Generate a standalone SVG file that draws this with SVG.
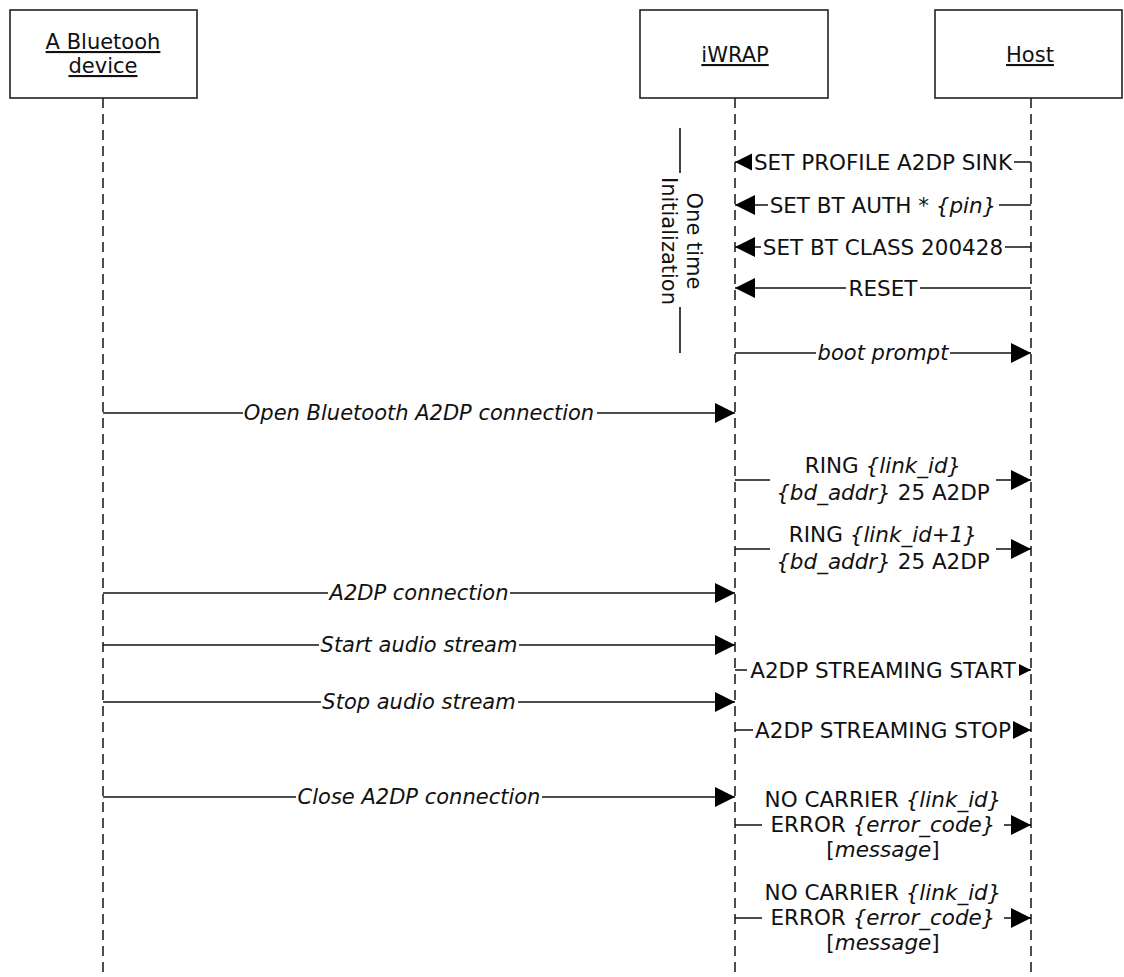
<svg xmlns="http://www.w3.org/2000/svg" width="1124" height="977" viewBox="0 0 1124 977">
<style>
.box{fill:#fff;stroke:#222;stroke-width:1.6}
.life{stroke:#222;stroke-width:1.6;stroke-dasharray:10 6;fill:none}
.msg{stroke:#111;stroke-width:1.6;fill:none;marker-end:url(#ah)}
.bg{fill:#fff}
text{font-family:"DejaVu Sans",Verdana,sans-serif;font-size:21.5px;fill:#111}
.hd,.nt,.ito{font-size:21px}
.c{text-anchor:middle}
.hd{text-decoration:underline}
.it,.ito{font-style:italic}
.br{stroke:#111;stroke-width:1.6}
</style>
<defs>
<marker id="ah" markerUnits="userSpaceOnUse" markerWidth="20" markerHeight="20" refX="20" refY="10" orient="auto" viewBox="0 0 20 20">
<path d="M0,0 L20,10 L0,20 z" fill="#000"/>
</marker>
</defs>
<rect width="1124" height="977" fill="#fff"/>

<g id="lifelines">
<line class="life" x1="103" y1="98" x2="103" y2="977"/>
<line class="life" x1="735" y1="98" x2="735" y2="977"/>
<line class="life" x1="1031" y1="98" x2="1031" y2="977"/>
</g>

<g id="node-device">
<rect class="box" x="10" y="10" width="187" height="88"/>
<text class="c hd" x="103" y="49">A Bluetooh</text>
<text class="c hd" x="103" y="73">device</text>
</g>
<g id="node-iwrap">
<rect class="box" x="640" y="10" width="188" height="88"/>
<text class="c hd" x="735" y="62">iWRAP</text>
</g>
<g id="node-host">
<rect class="box" x="935" y="10" width="187" height="88"/>
<text class="c hd" x="1030" y="62">Host</text>
</g>

<g id="note-init">
<line class="br" x1="680" y1="128" x2="680" y2="173"/>
<line class="br" x1="680" y1="307" x2="680" y2="353"/>
<g transform="translate(681,241) rotate(90)">
<text class="c nt" x="0" y="-6">One time</text>
<text class="c nt" x="0" y="19">Initialization</text>
</g>
</g>

<g id="connectors">
<g id="m1">
<line class="msg" x1="1031" y1="162" x2="735" y2="162"/>
<rect class="bg" x="752" y="149" width="262" height="26"/>
<text class="c" x="883" y="170">SET PROFILE A2DP SINK</text>
</g>
<g id="m2">
<line class="msg" x1="1031" y1="205" x2="735" y2="205"/>
<rect class="bg" x="768" y="192" width="231" height="26"/>
<text class="c" x="883" y="213">SET BT AUTH * <tspan class="it">{pin}</tspan></text>
</g>
<g id="m3">
<line class="msg" x1="1031" y1="247" x2="735" y2="247"/>
<rect class="bg" x="761" y="234" width="244" height="26"/>
<text class="c" x="883" y="255">SET BT CLASS 200428</text>
</g>
<g id="m4">
<line class="msg" x1="1031" y1="288" x2="735" y2="288"/>
<rect class="bg" x="846" y="275" width="74" height="26"/>
<text class="c" x="883" y="296">RESET</text>
</g>
<g id="m5">
<line class="msg" x1="735" y1="353" x2="1031" y2="353"/>
<rect class="bg" x="816" y="340" width="134" height="26"/>
<text class="c ito" x="883" y="360">boot prompt</text>
</g>
<g id="m6">
<line class="msg" x1="103" y1="413" x2="735" y2="413"/>
<rect class="bg" x="243" y="400" width="354" height="26"/>
<text class="c ito" x="419" y="420">Open Bluetooth A2DP connection</text>
</g>
<g id="m7">
<line class="msg" x1="735" y1="480" x2="1031" y2="480"/>
<rect class="bg" x="770" y="452" width="226" height="54"/>
<text class="c" x="883" y="473">RING <tspan class="it">{link_id}</tspan></text>
<text class="c" x="883" y="500"><tspan class="it">{bd_addr}</tspan> 25 A2DP</text>
</g>
<g id="m8">
<line class="msg" x1="735" y1="549" x2="1031" y2="549"/>
<rect class="bg" x="770" y="521" width="226" height="54"/>
<text class="c" x="883" y="542">RING <tspan class="it">{link_id+1}</tspan></text>
<text class="c" x="883" y="569"><tspan class="it">{bd_addr}</tspan> 25 A2DP</text>
</g>
<g id="m9">
<line class="msg" x1="103" y1="593" x2="735" y2="593"/>
<rect class="bg" x="328" y="580" width="182" height="26"/>
<text class="c ito" x="419" y="600">A2DP connection</text>
</g>
<g id="m10">
<line class="msg" x1="103" y1="645" x2="735" y2="645"/>
<rect class="bg" x="319" y="632" width="200" height="26"/>
<text class="c ito" x="419" y="652">Start audio stream</text>
</g>
<g id="m11">
<line class="msg" x1="735" y1="670" x2="1031" y2="670"/>
<rect class="bg" x="747" y="657" width="272" height="26"/>
<text class="c" x="883" y="678">A2DP STREAMING START</text>
</g>
<g id="m12">
<line class="msg" x1="103" y1="702" x2="735" y2="702"/>
<rect class="bg" x="321" y="689" width="197" height="26"/>
<text class="c ito" x="419" y="709">Stop audio stream</text>
</g>
<g id="m13">
<line class="msg" x1="735" y1="730" x2="1031" y2="730"/>
<rect class="bg" x="753" y="717" width="260" height="26"/>
<text class="c" x="883" y="738">A2DP STREAMING STOP</text>
</g>
<g id="m14">
<line class="msg" x1="103" y1="797" x2="735" y2="797"/>
<rect class="bg" x="296" y="784" width="246" height="26"/>
<text class="c ito" x="419" y="804">Close A2DP connection</text>
</g>
<g id="m15">
<line class="msg" x1="735" y1="825" x2="1031" y2="825"/>
<rect class="bg" x="762" y="786" width="242" height="78"/>
<text class="c" x="883" y="807">NO CARRIER <tspan class="it">{link_id}</tspan></text>
<text class="c" x="883" y="832">ERROR <tspan class="it">{error_code}</tspan></text>
<text class="c" x="883" y="857">[<tspan class="it">message</tspan>]</text>
</g>
<g id="m16">
<line class="msg" x1="735" y1="918" x2="1031" y2="918"/>
<rect class="bg" x="762" y="879" width="242" height="78"/>
<text class="c" x="883" y="900">NO CARRIER <tspan class="it">{link_id}</tspan></text>
<text class="c" x="883" y="925">ERROR <tspan class="it">{error_code}</tspan></text>
<text class="c" x="883" y="950">[<tspan class="it">message</tspan>]</text>
</g>
</g>
</svg>
